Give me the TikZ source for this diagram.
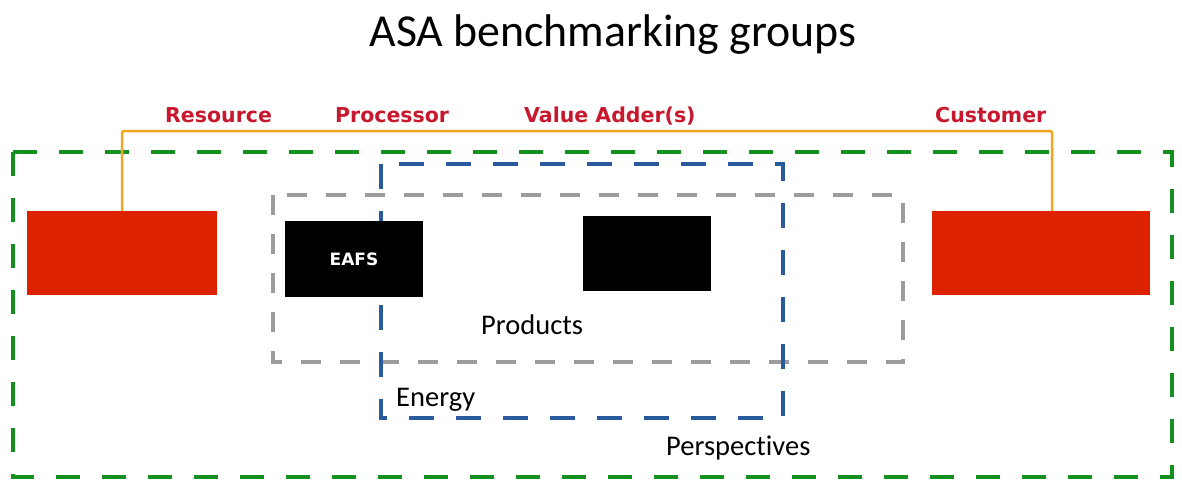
\documentclass[tikz,border=0pt]{standalone}
\usepackage{fontspec}
\setmainfont{Carlito}[Ligatures=NoCommon]
\newfontfamily\labfont{DejaVu Sans}
\definecolor{labred}{HTML}{C8182E}
\definecolor{boxred}{HTML}{DD2200}
\definecolor{lineorange}{HTML}{F5A51C}
\definecolor{frgreen}{HTML}{14901E}
\definecolor{frblue}{HTML}{2A5A9E}
\definecolor{frgray}{HTML}{9C9C9C}
\begin{document}
\begin{tikzpicture}[x=1pt,y=-1pt,
  redbox/.style={fill=boxred, draw=none, inner sep=0pt},
  blackbox/.style={fill=black, draw=none, inner sep=0pt, text=white, font=\labfont\bfseries\fontsize{17}{19}\selectfont},
  stagelab/.style={anchor=base west, inner sep=0pt, text=labred, font=\labfont\bfseries\fontsize{20.5}{24}\selectfont},
  grouplab/.style={anchor=base west, inner sep=0pt, font=\fontsize{28.5}{32}\selectfont},
  greenframe/.style={draw=frgreen, line width=4.5pt, dash pattern=on 24pt off 22pt},
  blueframe/.style={draw=frblue, line width=3.5pt, dash pattern=on 25pt off 22pt},
  grayframe/.style={draw=frgray, line width=3.5pt, dash pattern=on 20pt off 19pt},
  flow/.style={draw=lineorange, line width=2.5pt, rounded corners=2pt}]
\useasboundingbox (0,0) rectangle (1182,484);
% title
\node[anchor=base, inner sep=0pt, font=\fontsize{45.8}{50}\selectfont] (title) at (613,47) {ASA benchmarking groups};
% stage labels
\node[stagelab] (lres) at (165,122) {Resource};
\node[stagelab] (lproc) at (335,122) {Processor};
\node[stagelab] (lval) at (524,122) {Value Adder(s)};
\node[stagelab] (lcust) at (935,122) {Customer};
% frames
\draw[greenframe] (13,152) rectangle (1172,477);
\draw[grayframe] (273,195) rectangle (903,362);
\draw[blueframe] (381,164) rectangle (783,418);
% boxes
\node[redbox, minimum width=190pt, minimum height=84pt] (res) at (122,253) {};
\node[redbox, minimum width=218pt, minimum height=84pt] (cust) at (1041,253) {};
\node[blackbox, minimum width=138pt, minimum height=76pt] (eafs) at (354,259) {EAFS};
\node[blackbox, minimum width=128pt, minimum height=75pt] (proc2) at (647,253.5) {};
% orange flow line
\coordinate (ctop) at (1052,131);
\draw[flow] (res.north) |- (ctop) -- ([xshift=11pt]cust.north);
% group labels
\node[grouplab] (lprod) at (481,334) {Products};
\node[grouplab] (lenergy) at (396,406) {Energy};
\node[grouplab] (lpersp) at (666,455) {Perspectives};
\end{tikzpicture}
\end{document}
